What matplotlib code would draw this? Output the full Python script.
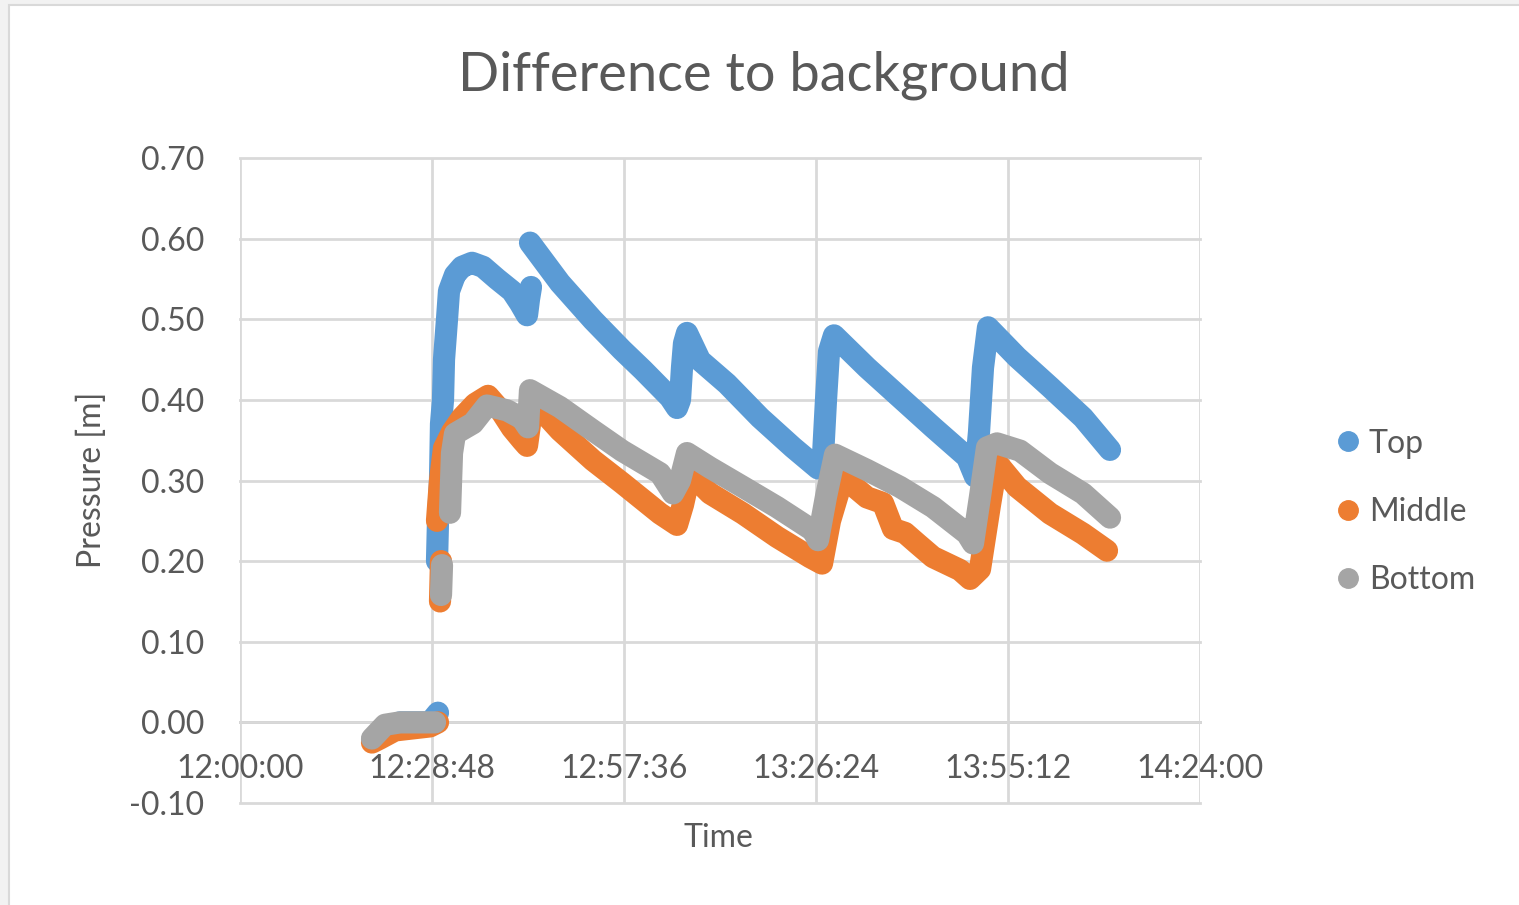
import numpy as np
import matplotlib
matplotlib.use("Agg")
import matplotlib.pyplot as plt
from matplotlib.lines import Line2D
from matplotlib.patches import Rectangle
from matplotlib.ticker import FixedLocator, FuncFormatter

plt.rcParams['font.family'] = ['Lato', 'DejaVu Sans']

nan = np.nan

# time in minutes after 12:00:00, pressure difference in m (NaN = gap in the record)
top_t = [24.0, 28.5, 29.7, nan,
         29.55, 29.7, 30.0, 30.15, 30.45, 30.6, 31.05, 31.35, 32.25, 33.3, 34.8, 36.45,
         38.55, 40.8, 42.0, 43.05, 43.35, 43.65, nan,
         43.5, 48.0, 52.95, 57.3, 60.45, 64.5, 65.55, 66.0, 66.3, 66.6, 67.05, 69.0,
         73.05, 78.0, 82.95, 86.7, 87.45, 87.9, 88.35, 89.1, 94.05, 99.0, 103.95,
         109.05, 110.25, 110.85, 111.45, 112.2, 116.55, 121.5, 126.45, 130.5]
top_p = [0.0, 0.0, 0.012, nan,
         0.20, 0.25, 0.30, 0.37, 0.40, 0.45, 0.50, 0.535, 0.555, 0.565, 0.57, 0.565,
         0.55, 0.535, 0.52, 0.505, 0.525, 0.54, nan,
         0.595, 0.545, 0.499, 0.462, 0.437, 0.403, 0.39, 0.40, 0.44, 0.47, 0.483, 0.449,
         0.42, 0.378, 0.341, 0.315, 0.33, 0.40, 0.46, 0.48, 0.44, 0.403, 0.366,
         0.329, 0.305, 0.36, 0.44, 0.49, 0.453, 0.416, 0.378, 0.338]

mid_t = [19.8, 21.0, 23.25, 28.5, 29.7, nan,
         30.0, 30.15, nan,
         29.55, 30.0, 30.6, 31.8, 33.3, 35.25, 37.2, 39.0, 40.8, 42.3, 43.05, 43.5,
         43.8, 48.0, 52.95, 57.3, 63.0, 65.55, 66.45, 67.5, 70.5, 75.45, 80.55, 85.5,
         87.3, 88.5, 90.45, 94.05, 96.45, 97.95, 99.75, 101.55, 103.95, 108.0, 109.5,
         111.0, 112.5, 113.55, 116.55, 121.5, 126.45, 130.05]
mid_p = [-0.025, -0.02, -0.01, -0.005, 0.0, nan,
         0.15, 0.20, nan,
         0.25, 0.30, 0.34, 0.36, 0.378, 0.395, 0.405, 0.388, 0.365, 0.35, 0.343, 0.37,
         0.40, 0.362, 0.325, 0.297, 0.259, 0.245, 0.27, 0.309, 0.284, 0.259, 0.230, 0.205,
         0.197, 0.25, 0.304, 0.279, 0.272, 0.24, 0.235, 0.222, 0.205, 0.189, 0.178,
         0.19, 0.27, 0.322, 0.292, 0.259, 0.234, 0.213]

bot_t = [19.8, 21.75, 24.0, 29.25, nan,
         30.15, 30.3, nan,
         31.5, 31.8, 32.25, 34.95, 37.05, 40.05, 42.3, 43.2, 43.5, 48.0, 52.95, 57.3,
         63.0, 64.95, 66.0, 67.05, 70.5, 75.45, 80.55, 85.95, 86.7, 87.9, 89.25, 94.05,
         99.0, 103.95, 109.05, 109.95, 111.0, 112.05, 113.55, 117.0, 121.5, 126.45, 130.5]
bot_p = [-0.02, -0.003, 0.0, 0.0, nan,
         0.158, 0.195, nan,
         0.26, 0.334, 0.358, 0.371, 0.393, 0.387, 0.377, 0.366, 0.412, 0.391, 0.362, 0.337,
         0.309, 0.284, 0.30, 0.334, 0.316, 0.292, 0.267, 0.238, 0.226, 0.28, 0.332, 0.313,
         0.292, 0.267, 0.234, 0.222, 0.28, 0.341, 0.346, 0.337, 0.309, 0.284, 0.254]

series = [("Top", top_t, top_p, "#5b9bd5"),
          ("Middle", mid_t, mid_p, "#ed7d31"),
          ("Bottom", bot_t, bot_p, "#a5a5a5")]

x_ticks = [0, 28.8, 57.6, 86.4, 115.2, 144]
y_ticks = [-0.1, 0.0, 0.1, 0.2, 0.3, 0.4, 0.5, 0.6, 0.7]

txt = "#595959"
grid_c = "#d9d9d9"


def clock(m, pos=None):
    s = int(round(m * 60))
    return f"{12 + s // 3600}:{(s % 3600) // 60:02d}:{s % 60:02d}"


fig = plt.figure(figsize=(15.19, 9.05), dpi=100)
fig.patch.set_facecolor("#f2f2f2")
fig.add_artist(Rectangle((9 / 1519, -0.05), 1.1, 1.05 - 5 / 905,
                         transform=fig.transFigure, facecolor="white",
                         edgecolor=grid_c, lw=1.5, zorder=-1))

ax = fig.add_axes([240 / 1519, 1 - 803 / 905, 960 / 1519, 645 / 905])
ax.set_facecolor("none")

for name, t, p, c in series:
    ax.plot(t, p, color=c, lw=16, solid_capstyle="round",
            solid_joinstyle="round", zorder=3)

ax.set_xlim(0, 144)
ax.set_ylim(-0.1, 0.7)
ax.xaxis.set_major_locator(FixedLocator(x_ticks))
ax.xaxis.set_major_formatter(FuncFormatter(clock))
ax.yaxis.set_major_locator(FixedLocator(y_ticks))
ax.yaxis.set_major_formatter(FuncFormatter(lambda v, pos: f"{v:.2f}"))

ax.grid(True, color=grid_c, lw=2, zorder=0)
for gl in ax.get_xgridlines() + ax.get_ygridlines():
    gl.set_clip_on(False)
for s in ["left", "right", "top"]:
    ax.spines[s].set_visible(False)
ax.spines["bottom"].set_position(("data", 0))
ax.spines["bottom"].set_color("#bfbfbf")
ax.spines["bottom"].set_linewidth(2)
ax.spines["bottom"].set_zorder(1)

ax.tick_params(axis="x", length=0, pad=23, labelsize=23, labelcolor=txt)
ax.tick_params(axis="y", length=0, pad=26, labelsize=23, labelcolor=txt)

ax.set_xlabel("Time", fontsize=23, color=txt, va="center")
ax.xaxis.set_label_coords(0.498, -0.054)
ax.set_ylabel("Pressure [m]", fontsize=23, color=txt, va="center")
ax.yaxis.set_label_coords(-0.154, 0.501)

fig.text(0.503, 1 - 75 / 905, "Difference to background", fontsize=39,
         color=txt, ha="center", va="center")

handles = [Line2D([], [], ls="none", marker="o", ms=14, color=c, label=n)
           for n, t, p, c in series]
fig.legend(handles=handles, loc="center left",
           bbox_to_anchor=(1321 / 1519, 1 - 512 / 905), frameon=False,
           fontsize=23, labelcolor=txt, handlelength=0.7, handletextpad=0.3,
           labelspacing=1.2, borderpad=0)

fig.savefig("out.png", dpi=100, facecolor=fig.get_facecolor())
